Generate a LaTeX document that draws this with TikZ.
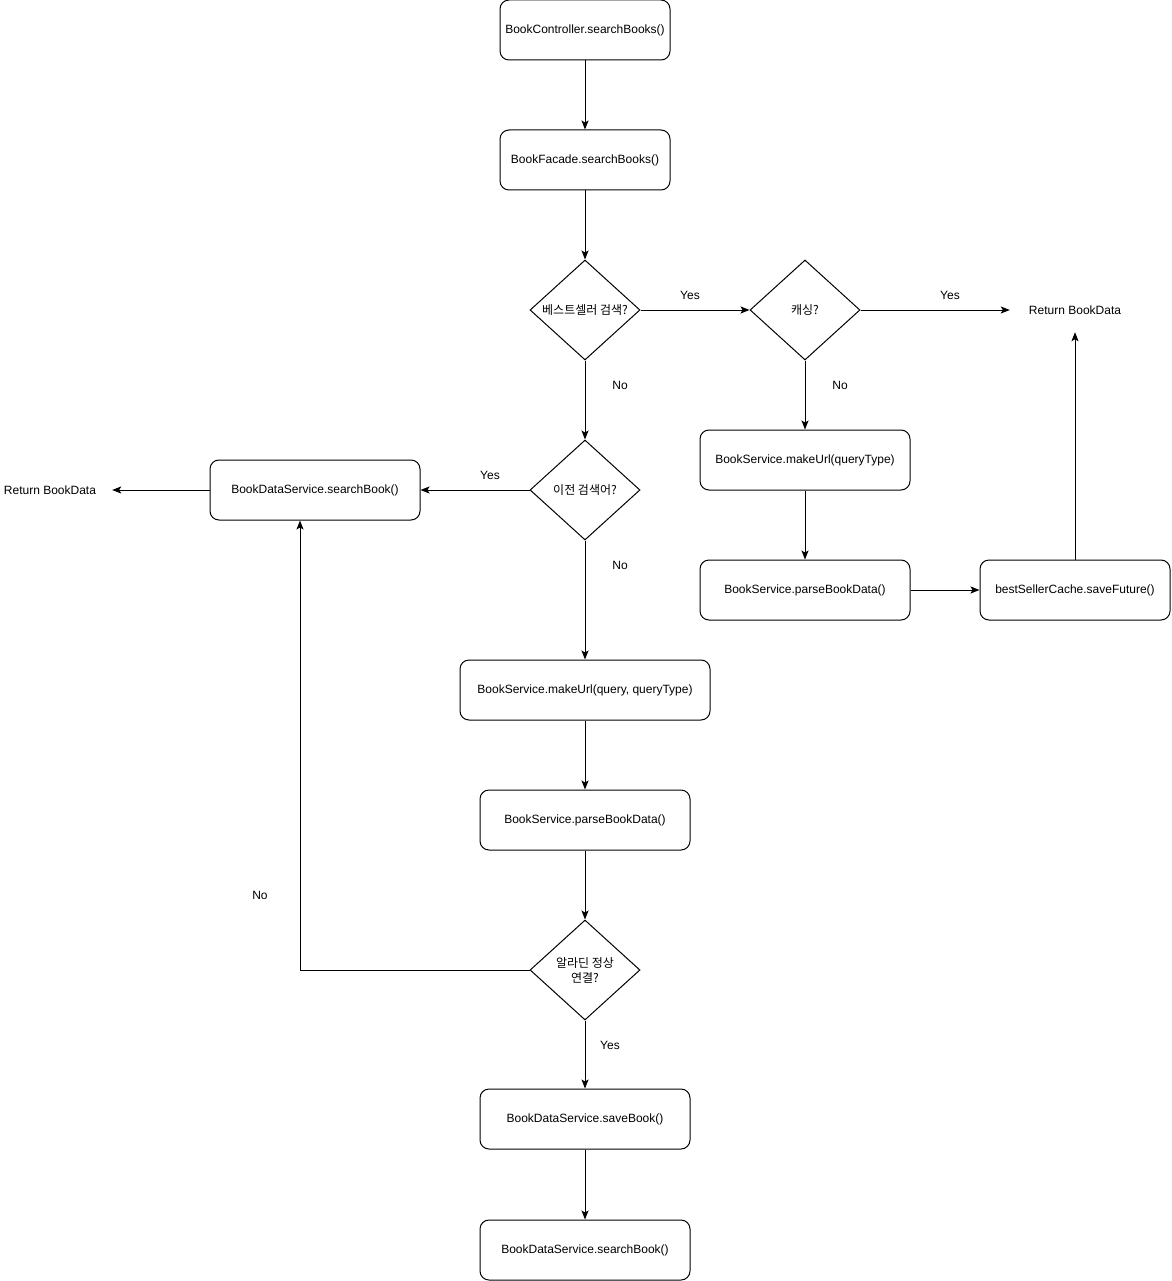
\documentclass[tikz,border=0pt]{standalone}
\usepackage{fontspec}
\setmainfont{Liberation Sans}
\newfontfamily\kor{Noto Sans CJK KR}
\usetikzlibrary{shapes.geometric,arrows.meta}
\begin{document}
\begin{tikzpicture}[x=1pt,y=-1pt,
  every node/.style={font=\fontsize{12}{14}\selectfont},
  box/.style={draw,line width=1pt,rounded corners=9pt,minimum height=60pt,inner sep=0pt},
  dia/.style={draw,line width=1pt,diamond,minimum width=110pt,minimum height=100pt,inner sep=0pt},
  dtext/.style={align=center,font=\kor\fontsize{12}{15}\selectfont},
  lbl/.style={inner sep=0pt},
  conn/.style={line width=1pt,-{Stealth[length=9pt,width=7pt,inset=2pt]}}]
\useasboundingbox (0,0) rectangle (1171,1281);
% boxes
\node[box,minimum width=170pt] (b1) at (585,30) {BookController.searchBooks()};
\node[box,minimum width=170pt] (b2) at (585,160) {BookFacade.searchBooks()};
\node[dia] (d1) at (585,310) {};
\node[dtext] at (d1.center) {베스트셀러 검색?};
\node[dia] (d2) at (805,310) {};
\node[dtext] at (d2.center) {캐싱?};
\node[minimum width=130pt,minimum height=44pt,inner sep=0pt] (r1) at (1075,310) {Return BookData};
\node[dia] (d3) at (585,490) {};
\node[dtext] at (d3.center) {이전 검색어?};
\node[box,minimum width=210pt] (bds) at (315,490) {BookDataService.searchBook()};
\node[minimum width=124pt,inner sep=0pt] (r2) at (50,490) {Return BookData};
\node[box,minimum width=210pt] (mk1) at (805,460) {BookService.makeUrl(queryType)};
\node[box,minimum width=210pt] (pb1) at (805,590) {BookService.parseBookData()};
\node[box,minimum width=190pt] (bsc) at (1075,590) {bestSellerCache.saveFuture()};
\node[box,minimum width=250pt] (mk2) at (585,690) {BookService.makeUrl(query, queryType)};
\node[box,minimum width=210pt] (pb2) at (585,820) {BookService.parseBookData()};
\node[dia] (d4) at (585,970) {};
\node[dtext] at (d4.center) {알라딘 정상\\연결?};
\node[box,minimum width=210pt] (sb) at (585,1119) {BookDataService.saveBook()};
\node[box,minimum width=210pt] (sb2) at (585,1250) {BookDataService.searchBook()};
% connectors
\draw[conn] (b1.south) -- (b2.north);
\draw[conn] (b2.south) -- (d1.north);
\draw[conn] (d1.east) -- (d2.west);
\draw[conn] (d2.east) -- (r1.west);
\draw[conn] (d1.south) -- (d3.north);
\draw[conn] (d2.south) -- (mk1.north);
\draw[conn] (d3.west) -- (bds.east);
\draw[conn] (bds.west) -- (r2.east);
\draw[conn] (d3.south) -- (mk2.north);
\draw[conn] (mk1.south) -- (pb1.north);
\draw[conn] (pb1.east) -- (bsc.west);
\draw[conn] (bsc.north) -- (r1.south);
\draw[conn] (mk2.south) -- (pb2.north);
\draw[conn] (pb2.south) -- (d4.north);
\draw[conn] (d4.west) -| ([xshift=-15pt]bds.south);
\draw[conn] (d4.south) -- (sb.north);
\draw[conn] (sb.south) -- (sb2.north);
% labels
\node[lbl] (l1) at (690,295) {Yes};
\node[lbl] (l2) at (950,295) {Yes};
\node[lbl] (l3) at (620,385) {No};
\node[lbl] (l4) at (840,385) {No};
\node[lbl] (l5) at (490,475) {Yes};
\node[lbl] (l6) at (620,565) {No};
\node[lbl] (l7) at (260,895) {No};
\node[lbl] (l8) at (610,1045) {Yes};
\end{tikzpicture}
\end{document}
